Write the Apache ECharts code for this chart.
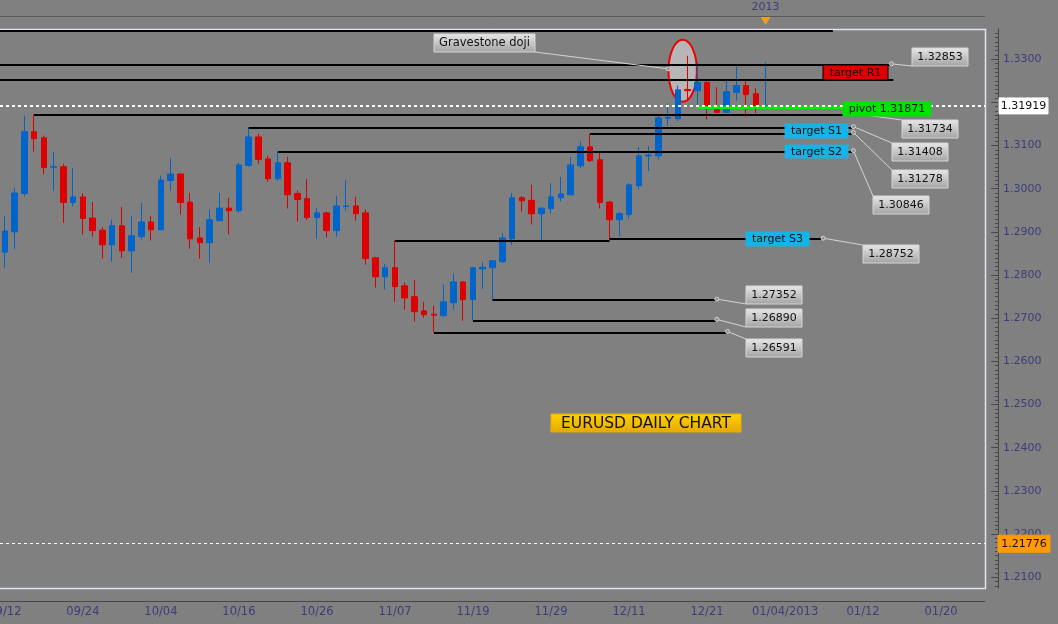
<!DOCTYPE html>
<html><head><meta charset="utf-8">
<script src="https://cdn.jsdelivr.net/npm/echarts@6/dist/echarts.min.js"></script>
<style>html,body{margin:0;padding:0;background:#808080}#c{width:1058px;height:624px}</style>
</head><body><div id="c"></div>
<script>
// ---------- data ----------
const dates = ['2012-09-12','2012-09-13','2012-09-14','2012-09-17','2012-09-18','2012-09-19','2012-09-20','2012-09-21','2012-09-24','2012-09-25','2012-09-26','2012-09-27','2012-09-28',
'2012-10-01','2012-10-02','2012-10-03','2012-10-04','2012-10-05','2012-10-08','2012-10-09','2012-10-10','2012-10-11','2012-10-12','2012-10-15','2012-10-16','2012-10-17','2012-10-18','2012-10-19','2012-10-22','2012-10-23','2012-10-24','2012-10-25','2012-10-26','2012-10-29','2012-10-30','2012-10-31',
'2012-11-01','2012-11-02','2012-11-05','2012-11-06','2012-11-07','2012-11-08','2012-11-09','2012-11-12','2012-11-13','2012-11-14','2012-11-15','2012-11-16','2012-11-19','2012-11-20','2012-11-21','2012-11-22','2012-11-23','2012-11-26','2012-11-27','2012-11-28','2012-11-29','2012-11-30',
'2012-12-03','2012-12-04','2012-12-05','2012-12-06','2012-12-07','2012-12-10','2012-12-11','2012-12-12','2012-12-13','2012-12-14','2012-12-17','2012-12-18','2012-12-19','2012-12-20','2012-12-21','2012-12-24','2012-12-26','2012-12-27','2012-12-28','2012-12-31',
'2013-01-02'];
const futureDates = ['2013-01-03','2013-01-04','2013-01-05','2013-01-06','2013-01-07','2013-01-08','2013-01-09','2013-01-10','2013-01-11','2013-01-12','2013-01-13','2013-01-14','2013-01-15','2013-01-16','2013-01-17','2013-01-18','2013-01-19','2013-01-20','2013-01-21','2013-01-22','2013-01-23','2013-01-24'];

const opens  = [1.2853,1.2900,1.2989,1.3132,1.3118,1.3050,1.3051,1.2968,1.2981,1.2932,1.2904,1.2870,1.2914,1.2856,1.2889,1.2923,1.2905,1.3019,1.3034,1.2969,1.2886,1.2875,1.2926,1.2955,1.2949,1.3054,1.3120,1.3069,1.3023,1.3060,1.2989,1.2977,1.2933,1.2944,1.2903,1.2959,1.2960,1.2944,1.2840,1.2796,1.2817,1.2775,1.2750,1.2717,1.2709,1.2706,1.2736,1.2784,1.2743,1.2814,1.2817,1.2831,1.2884,1.2979,1.2973,1.2942,1.2954,1.2979,1.2986,1.3053,1.3097,1.3067,1.2969,1.2928,1.2940,1.3007,1.3076,1.3076,1.3163,1.3162,1.3230,1.3227,1.3246,1.3183,1.3177,1.3223,1.3239,1.3220,1.3190];
const highs  = [1.2937,1.3002,1.3169,1.3172,1.3123,1.3085,1.3058,1.3048,1.2990,1.2969,1.2911,1.2928,1.2958,1.2937,1.2967,1.2937,1.3030,1.3071,1.3035,1.2990,1.2911,1.2951,1.2990,1.2979,1.3060,1.3142,1.3127,1.3076,1.3086,1.3074,1.2996,1.3023,1.2955,1.2947,1.2983,1.3020,1.2981,1.2952,1.2842,1.2826,1.2880,1.2782,1.2789,1.2738,1.2729,1.2778,1.2803,1.2786,1.2819,1.2830,1.2835,1.2897,1.2990,1.2983,1.3009,1.2956,1.3013,1.3027,1.3074,1.3109,1.3128,1.3083,1.2972,1.2946,1.3013,1.3097,1.3099,1.3169,1.3198,1.3239,1.3308,1.3293,1.3250,1.3235,1.3250,1.3283,1.3250,1.3233,1.3293];
const lows   = [1.2817,1.2860,1.2982,1.3086,1.3033,1.2996,1.2921,1.2959,1.2894,1.2889,1.2838,1.2831,1.2840,1.2805,1.2882,1.2880,1.2904,1.2996,1.2940,1.2861,1.2838,1.2829,1.2924,1.2894,1.2945,1.3051,1.3058,1.3016,1.3019,1.2954,1.2924,1.2928,1.2884,1.2887,1.2889,1.2949,1.2926,1.2824,1.2771,1.2766,1.2738,1.2720,1.2692,1.2701,1.2667,1.2703,1.2720,1.2694,1.2695,1.2768,1.2742,1.2828,1.2870,1.2947,1.2917,1.2880,1.2942,1.2970,1.2985,1.3048,1.3062,1.2954,1.2883,1.2889,1.2931,1.2998,1.3041,1.3067,1.3146,1.3157,1.3206,1.3194,1.3160,1.3176,1.3176,1.3204,1.3167,1.3175,1.3190];
const closes = [1.2902,1.2990,1.3132,1.3116,1.3049,1.3051,1.2968,1.2981,1.2931,1.2903,1.2870,1.2914,1.2856,1.2891,1.2923,1.2905,1.3020,1.3034,1.2968,1.2884,1.2875,1.2928,1.2955,1.2949,1.3055,1.3120,1.3068,1.3023,1.3060,1.2986,1.2975,1.2933,1.2944,1.2903,1.2960,1.2960,1.2942,1.2838,1.2796,1.2817,1.2773,1.2747,1.2715,1.2708,1.2707,1.2738,1.2784,1.2743,1.2817,1.2818,1.2833,1.2886,1.2979,1.2972,1.2942,1.2955,1.2981,1.2988,1.3055,1.3097,1.3065,1.2968,1.2928,1.2942,1.3009,1.3076,1.3078,1.3164,1.3165,1.3229,1.3227,1.3246,1.3190,1.3177,1.3225,1.3239,1.3218,1.3192,1.31919];

// horizontal levels (price, start bar, end bar)
const levelPrice = [1.3367, 1.3287, 1.3253, 1.3172, 1.31415, 1.3128, 1.3086, 1.2880, 1.2883, 1.2742, 1.2695, 1.2667];
const levelFrom  = [-0.5, -0.5, -0.5, 3, 25, 60, 28, 40, 62, 50, 48, 44];
const levelTo    = [84.9, 90.8, 91.1, 86.9, 86.9, 86.9, 86.9, 62, 83.8, 72.9, 72.9, 74.0];
const pivotPrice = 1.3188, pivotFrom = 71, pivotTo = 95;
const currentPrice = 1.31919, lowMarkPrice = 1.21776;

const noteTexts = ['1.32853','1.31734','1.31408','1.31278','1.30846','1.28752','1.27352','1.26890','1.26591'];
const noteLevel = [1, 3, 4, 5, 6, 8, 9, 10, 11];
const targetTexts = ['target R1','pivot 1.31871','target S1','target S2','target S3'];
const yTickLabels = [1.21,1.22,1.23,1.24,1.25,1.26,1.27,1.28,1.29,1.30,1.31,1.32,1.33];
const yMinor = []; for (let k = 1208; k <= 1336; k++) yMinor.push(k / 1000);
const yMin = 1.2075, yMax = 1.3370;

// ---------- layout (pixels) ----------
const noteBox = [[912,48],[902,120],[892,143],[892,170],[873,196],[863,245],[746,286],[746,309],[746,339]];
const noteCorner = ['bl','tl','tl','tl','tl','tl','bl','bl','tl'];
const targetBox = [[823,65,65,15,'#e00000'],[843,102,88,14,'#00e400'],[785,124,63,14,'#14b4e6'],[785,145,63,13,'#14b4e6'],[746,232,63,14,'#14b4e6']];

const FONT = '"DejaVu Sans", sans-serif';
const allDates = dates.concat(futureDates);
function fmtDate(v, idx) {
  const p = v.split('-');
  let s = p[1] + '/' + p[2];
  if (idx >= 8 && allDates[idx - 8].slice(0, 4) !== p[0]) s += '/' + p[0];
  return s;
}

const chart = echarts.init(document.getElementById('c'), null, {renderer: 'canvas'});
const axisCol = '#474747', labCol = '#3c3c7c';
const gridBox = {left: 0, right: 73, top: 29, bottom: 36, containLabel: false, outerBoundsMode: 'none'};

chart.setOption({
  animation: false,
  backgroundColor: '#808080',
  grid: [Object.assign({}, gridBox), Object.assign({}, gridBox)],
  xAxis: [
    {gridIndex: 0, type: 'category', data: allDates, position: 'bottom', offset: 13, boundaryGap: true,
     axisLine: {onZero: false, lineStyle: {color: axisCol, width: 1}},
     axisTick: {inside: true, length: 10, interval: 7, alignWithLabel: true, lineStyle: {color: axisCol}},
     axisLabel: {interval: 7, formatter: fmtDate, color: labCol, fontSize: 11.5, fontFamily: FONT, margin: 5},
     splitLine: {show: false}},
    {gridIndex: 0, type: 'value', position: 'top', min: -0.5, max: 100.5, show: false, axisLine: {onZero: false}},
    {gridIndex: 1, type: 'category', data: allDates, position: 'bottom', offset: 13, boundaryGap: true,
     axisLine: {show: false, onZero: false},
     axisTick: {inside: true, length: 4, interval: 0, alignWithLabel: true, lineStyle: {color: axisCol}},
     axisLabel: {show: false}, splitLine: {show: false}},
    {gridIndex: 1, type: 'category', data: allDates, position: 'top', offset: 13, boundaryGap: true,
     axisLine: {onZero: false, lineStyle: {color: '#5a5a5a'}}, axisTick: {show: false}, axisLabel: {show: false}, splitLine: {show: false}}
  ],
  yAxis: [
    {gridIndex: 0, type: 'value', position: 'right', offset: 13, min: yMin, max: yMax, splitLine: {show: false},
     axisLine: {show: true, onZero: false, lineStyle: {color: axisCol}},
     axisTick: {show: true, inside: true, length: 7, customValues: yTickLabels, lineStyle: {color: axisCol}},
     axisLabel: {customValues: yTickLabels, formatter: v => v.toFixed(4), color: labCol, fontSize: 11, fontFamily: FONT, margin: 5}},
    {gridIndex: 1, type: 'value', position: 'right', offset: 13, min: yMin, max: yMax, splitLine: {show: false},
     axisLine: {show: false, onZero: false},
     axisTick: {show: true, inside: true, length: 3, customValues: yMinor, lineStyle: {color: axisCol}},
     axisLabel: {show: false}}
  ],
  series: [
    {type: 'candlestick', xAxisIndex: 0, yAxisIndex: 0, barWidth: 6, z: 3,
     data: dates.map((d, i) => [opens[i], closes[i], lows[i], highs[i]]),
     itemStyle: {color: '#0064c8', color0: '#dc0000', borderColor: '#0064c8', borderColor0: '#dc0000', borderWidth: 1}},
    {type: 'lines', coordinateSystem: 'cartesian2d', xAxisIndex: 1, yAxisIndex: 0, z: 4, silent: true,
     data: levelPrice.map((p, i) => ({coords: [[levelFrom[i], p], [levelTo[i], p]]})),
     lineStyle: {color: '#000000', width: 2, opacity: 1}},
    {type: 'lines', coordinateSystem: 'cartesian2d', xAxisIndex: 1, yAxisIndex: 0, z: 4, silent: true,
     data: [{coords: [[pivotFrom, pivotPrice], [pivotTo, pivotPrice]]}],
     lineStyle: {color: '#00ee00', width: 3, opacity: 1}},
    {type: 'lines', coordinateSystem: 'cartesian2d', xAxisIndex: 1, yAxisIndex: 0, z: 5, silent: true,
     data: [{coords: [[-0.5, currentPrice], [100.5, currentPrice]]}],
     lineStyle: {color: '#ffffff', width: 2, type: [3, 3], opacity: 1}},
    {type: 'lines', coordinateSystem: 'cartesian2d', xAxisIndex: 1, yAxisIndex: 0, z: 5, silent: true,
     data: [{coords: [[-0.5, lowMarkPrice], [100.5, lowMarkPrice]]}],
     lineStyle: {color: '#ffffff', width: 1, type: [3, 3], opacity: 1}}
  ]
});

// ---------- annotations ----------
const toPx = (i, p) => chart.convertToPixel({xAxisIndex: 1, yAxisIndex: 0}, [i, p]);
const g = [];
const grey = () => new echarts.graphic.LinearGradient(0, 0, 0, 1, [{offset: 0, color: '#e8e8e8'}, {offset: 1, color: '#a2a2a2'}]);
function txt(x, y, s, size, fill, z, align) {
  return {type: 'text', z: z, style: {text: s, x: x, y: y, fill: fill, font: size + 'px ' + FONT,
    textAlign: align || 'center', textVerticalAlign: 'middle', align: align || 'center', verticalAlign: 'middle'}};
}
function box(x, y, w, h, s, fill, stroke, size, z) {
  g.push({type: 'rect', z: z, shape: {x: x, y: y, width: w, height: h}, style: {fill: fill, stroke: stroke, lineWidth: 1}});
  g.push(txt(x + w / 2, y + h / 2 + 0.5, s, size, '#111111', z + 1));
}

// plot frame
g.push({type: 'polyline', z: 2, shape: {points: [[0, 29.5], [985.5, 29.5], [985.5, 588.5], [0, 588.5]]}, style: {stroke: '#dfe3ee', lineWidth: 1.5, fill: null}});

// gravestone doji ellipse & note
const ec = toPx(69.5, 1.3273);
g.push({type: 'ellipse', z: 1, shape: {cx: ec[0], cy: ec[1], rx: 14.2, ry: 31}, style: {fill: '#b6b6b6', stroke: '#f00000', lineWidth: 2}});
g.push({type: 'polyline', z: 20, shape: {points: [[535, 52], [ec[0] - 14.5, ec[1] - 2]]}, style: {stroke: '#d4d4d4', lineWidth: 1, fill: null}});
g.push({type: 'circle', z: 21, shape: {cx: ec[0] - 14.5, cy: ec[1] - 2, r: 2}, style: {stroke: '#d4d4d4', fill: '#909090', lineWidth: 1}});
box(434, 34, 101, 18, 'Gravestone doji', grey(), '#d6d6d6', 11.5, 20);

// number notes
noteTexts.forEach((s, k) => {
  const li = noteLevel[k];
  const a = toPx(levelTo[li], levelPrice[li]);
  const b = noteBox[k];
  const end = noteCorner[k] === 'bl' ? [b[0], b[1] + 18] : [b[0], b[1]];
  g.push({type: 'polyline', z: 20, shape: {points: [[a[0] + 1, a[1] - 1], end]}, style: {stroke: '#d4d4d4', lineWidth: 1, fill: null}});
  g.push({type: 'circle', z: 21, shape: {cx: a[0] + 1, cy: a[1] - 1, r: 2}, style: {stroke: '#d4d4d4', fill: '#909090', lineWidth: 1}});
  box(b[0], b[1], 56, 18, s, grey(), '#d6d6d6', 11, 20);
});

// target labels
targetTexts.forEach((s, k) => {
  const t = targetBox[k];
  box(t[0], t[1], t[2], t[3], s, t[4], k === 0 ? '#000000' : t[4], 11, 22);
});

// current price and low marker on the price axis
const cy = chart.convertToPixel({yAxisIndex: 0}, currentPrice);
box(999, cy - 8, 49, 16, currentPrice.toFixed(5), '#ffffff', '#ffffff', 11, 30);
const ly = chart.convertToPixel({yAxisIndex: 0}, lowMarkPrice);
box(998, ly - 8.5, 52, 17, lowMarkPrice.toFixed(5), '#ff9a00', '#ff9a00', 11, 30);

// year marker
const yi = dates.findIndex(d => d.startsWith('2013'));
const yx = chart.convertToPixel({xAxisIndex: 0}, dates[yi]);
g.push(txt(yx, 7, '2013', 11, labCol, 30));
g.push({type: 'polygon', z: 30, shape: {points: [[yx - 5, 17], [yx + 5, 17], [yx, 25]]}, style: {fill: '#f0a020'}});

// title badge
box(551, 414, 190, 18, 'EURUSD DAILY CHART',
  new echarts.graphic.LinearGradient(0, 0, 0, 1, [{offset: 0, color: '#ffd200'}, {offset: 1, color: '#e6a800'}]),
  '#e8b000', 15.5, 20);

chart.setOption({graphic: {elements: g}});
</script>
</body></html>
